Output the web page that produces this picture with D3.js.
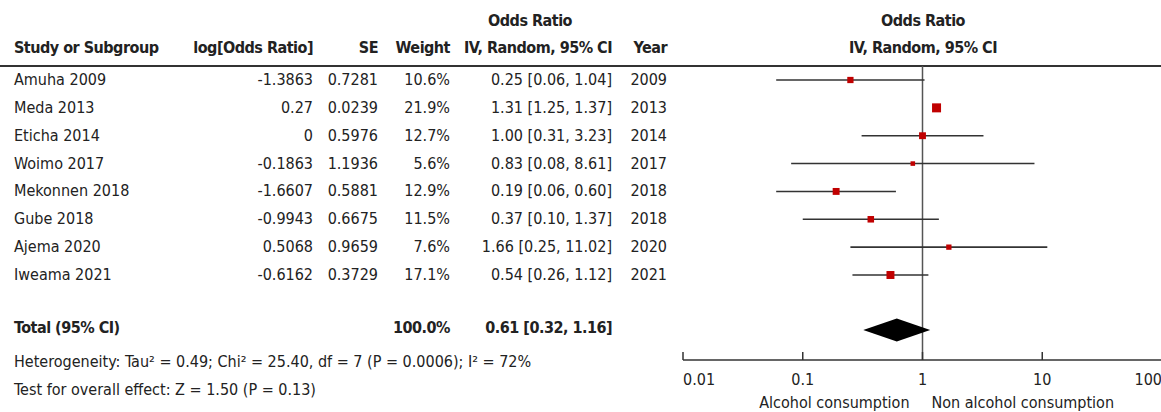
<!DOCTYPE html>
<html>
<head>
<meta charset="utf-8">
<script src="https://cdn.jsdelivr.net/npm/d3@7"></script>
<style>
  body { margin: 0; background: #fff; }
  svg text { font-family: 'DejaVu Sans Condensed', 'Liberation Sans Narrow', 'Arial Narrow', sans-serif; font-size: 16px; fill: #222; }
  svg text.b { font-weight: bold; letter-spacing: -0.5px; }
</style>
</head>
<body>
<div id="chart"></div>
<script>
// study rows
const studies = ['Amuha 2009', 'Meda 2013', 'Eticha 2014', 'Woimo 2017',
  'Mekonnen 2018', 'Gube 2018', 'Ajema 2020', 'Iweama 2021']
const logOR = ['-1.3863', '0.27', '0', '-0.1863', '-1.6607', '-0.9943', '0.5068', '-0.6162']
const se = ['0.7281', '0.0239', '0.5976', '1.1936', '0.5881', '0.6675', '0.9659', '0.3729']
const weight = [10.6, 21.9, 12.7, 5.6, 12.9, 11.5, 7.6, 17.1]
const or = [0.25, 1.31, 1.00, 0.83, 0.19, 0.37, 1.66, 0.54]
const lo = [0.06, 1.25, 0.31, 0.08, 0.06, 0.10, 0.25, 0.26]
const hi = [1.04, 1.37, 3.23, 8.61, 0.60, 1.37, 11.02, 1.12]
const years = [2009, 2013, 2014, 2017, 2018, 2018, 2020, 2021]

// pooled estimate
const total = { weight: 100.0, or: 0.61, lo: 0.32, hi: 1.16 }
const heterogeneity = 'Heterogeneity: Tau² = 0.49; Chi² = 25.40, df = 7 (P = 0.0006); I² = 72%'
const overall = 'Test for overall effect: Z = 1.50 (P = 0.13)'

const ticks = [0.01, 0.1, 1, 10, 100]
const favours = ['Alcohol consumption', 'Non alcohol consumption']

const width = 1161
const height = 412
const c_red = '#c00000'
const c_line = '#333'

const fmt2 = d3.format('.2f')
const ciText = (o, l, h) => `${fmt2(o)} [${fmt2(l)}, ${fmt2(h)}]`

const svg = d3.select('#chart')
  .append('svg')
  .attr('width', width)
  .attr('height', height)

const x = d3.scaleLog().domain([0.01, 100]).range([683, 1162])
const y = d3.scalePoint().domain(d3.range(studies.length)).range([80, 275])
const size = d3.scaleSqrt().domain([0, 21.9]).range([0, 9])

const yHead1 = 26
const yHead2 = 53
const yRule = 66
const yTotal = 328
const yAxis = 360
const base = 5

// column right edges
const cols = { log: 313, se: 378, weight: 450, ci: 612, year: 667 }

// headers
svg.append('text').classed('b', true).attr('x', 530).attr('y', yHead1)
  .attr('text-anchor', 'middle').text('Odds Ratio')
svg.append('text').classed('b', true).attr('x', 923).attr('y', yHead1)
  .attr('text-anchor', 'middle').text('Odds Ratio')
svg.append('text').classed('b', true).attr('x', 923).attr('y', yHead2)
  .attr('text-anchor', 'middle').text('IV, Random, 95% CI')

const head = [
  { t: 'Study or Subgroup', x: 14, a: 'start' },
  { t: 'log[Odds Ratio]', x: cols.log, a: 'end' },
  { t: 'SE', x: cols.se, a: 'end' },
  { t: 'Weight', x: cols.weight, a: 'end' },
  { t: 'IV, Random, 95% CI', x: cols.ci, a: 'end' },
  { t: 'Year', x: cols.year, a: 'end' }
]
svg.selectAll('.head')
  .data(head)
  .enter()
  .append('text')
  .classed('b', true)
  .attr('x', (d) => d.x)
  .attr('y', yHead2)
  .attr('text-anchor', (d) => d.a)
  .text((d) => d.t)

svg.append('line')
  .attr('x1', 0).attr('x2', width)
  .attr('y1', yRule).attr('y2', yRule)
  .attr('stroke', c_line).attr('stroke-width', 2)

// table rows
const rows = svg.selectAll('.row')
  .data(studies.map((s, i) => i))
  .enter()
  .append('g')
  .classed('row', true)
  .attr('transform', (i) => `translate(0,${y(i) + base})`)

rows.append('text').attr('x', 14).text((i) => studies[i])
rows.append('text').attr('x', cols.log).attr('text-anchor', 'end').text((i) => logOR[i])
rows.append('text').attr('x', cols.se).attr('text-anchor', 'end').text((i) => se[i])
rows.append('text').attr('x', cols.weight).attr('text-anchor', 'end').text((i) => weight[i].toFixed(1) + '%')
rows.append('text').attr('x', cols.ci).attr('text-anchor', 'end').text((i) => ciText(or[i], lo[i], hi[i]))
rows.append('text').attr('x', cols.year).attr('text-anchor', 'end').text((i) => years[i])

// total row
svg.append('text').classed('b', true).attr('x', 14).attr('y', yTotal + base).text('Total (95% CI)')
svg.append('text').classed('b', true).attr('x', cols.weight).attr('y', yTotal + base)
  .attr('text-anchor', 'end').text(total.weight.toFixed(1) + '%')
svg.append('text').classed('b', true).attr('x', cols.ci).attr('y', yTotal + base)
  .attr('text-anchor', 'end').text(ciText(total.or, total.lo, total.hi))
svg.append('text').attr('x', 14).attr('y', 362 + base).text(heterogeneity)
svg.append('text').attr('x', 14).attr('y', 390 + base).text(overall)

// line of no effect
svg.append('line')
  .attr('x1', x(1)).attr('x2', x(1))
  .attr('y1', yRule).attr('y2', yAxis)
  .attr('stroke', '#555').attr('stroke-width', 1.5)

// CIs and squares
const plot = svg.append('g')
plot.selectAll('.ci')
  .data(studies.map((s, i) => i))
  .enter()
  .append('line')
  .attr('x1', (i) => x(lo[i]))
  .attr('x2', (i) => x(hi[i]))
  .attr('y1', (i) => y(i))
  .attr('y2', (i) => y(i))
  .attr('stroke', c_line)
  .attr('stroke-width', 1.6)

plot.selectAll('.sq')
  .data(studies.map((s, i) => i))
  .enter()
  .append('rect')
  .attr('x', (i) => x(or[i]) - size(weight[i]) / 2)
  .attr('y', (i) => y(i) - size(weight[i]) / 2)
  .attr('width', (i) => size(weight[i]))
  .attr('height', (i) => size(weight[i]))
  .attr('fill', c_red)

// diamond
const dh = 11.5
svg.append('path')
  .attr('d', `M${x(total.lo)},${yTotal + 2} L${x(total.or)},${yTotal + 2 - dh} ` +
    `L${x(total.hi)},${yTotal + 2} L${x(total.or)},${yTotal + 2 + dh} Z`)
  .attr('fill', '#000')

// axis
const axis = svg.append('g').attr('transform', `translate(0,${yAxis})`)
axis.append('line')
  .attr('x1', x(0.01)).attr('x2', width)
  .attr('stroke', c_line).attr('stroke-width', 1.5)
axis.selectAll('.tick')
  .data(ticks)
  .enter()
  .append('line')
  .attr('x1', (d) => x(d)).attr('x2', (d) => x(d))
  .attr('y1', 0).attr('y2', -8)
  .attr('stroke', c_line).attr('stroke-width', 1.5)
axis.selectAll('.lab')
  .data(ticks)
  .enter()
  .append('text')
  .attr('x', (d) => x(d))
  .attr('y', 25)
  .attr('text-anchor', (d, i) => i === 0 ? 'start' : (i === ticks.length - 1 ? 'end' : 'middle'))
  .text((d) => d)

svg.append('text').attr('x', x(1) - 13).attr('y', 408)
  .attr('text-anchor', 'end').text(favours[0])
svg.append('text').attr('x', x(1) + 9).attr('y', 408)
  .text(favours[1])
</script>
</body>
</html>
